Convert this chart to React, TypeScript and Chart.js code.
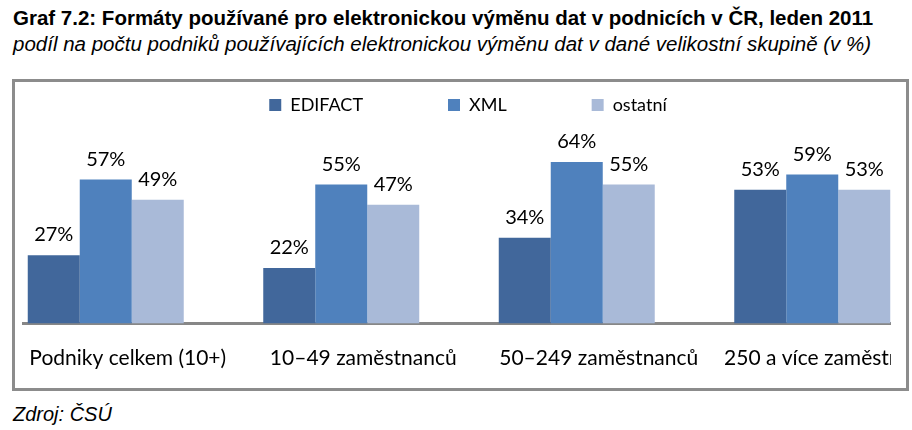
import React, { useEffect, useRef } from "react";
import { Chart, registerables } from "chart.js";

Chart.register(...registerables);

const categories = [
  "Podniky celkem (10+)",
  "10–49 zaměstnanců",
  "50–249 zaměstnanců",
  "250 a více zaměstnanců",
];
const seriesNames = ["EDIFACT", "XML", "ostatní"];
const edifact = [27, 22, 34, 53];
const xml = [57, 55, 64, 59];
const ostatni = [49, 47, 55, 53];
const seriesColors = ["#41679B", "#4F81BD", "#A9BAD8"];

const titleText =
  "Graf 7.2: Formáty používané pro elektronickou výměnu dat v podnicích v ČR, leden 2011";
const subtitleText =
  "podíl na počtu podniků používajících elektronickou výměnu dat v dané velikostní skupině (v %)";
const sourceText = "Zdroj: ČSÚ";

const LABEL_FONT = "Lato, 'Noto Sans', sans-serif";

const valueLabels = {
  id: "valueLabels",
  afterDatasetsDraw(chart: any) {
    const ctx = chart.ctx;
    ctx.save();
    ctx.font = `20px ${LABEL_FONT}`;
    ctx.fillStyle = "#000000";
    ctx.textAlign = "center";
    ctx.textBaseline = "alphabetic";
    chart.data.datasets.forEach((ds: any, di: number) => {
      const meta = chart.getDatasetMeta(di);
      meta.data.forEach((el: any, i: number) => {
        ctx.fillText(`${ds.data[i]}%`, el.x, el.y - 14);
      });
    });
    ctx.restore();
  },
};

export default function App() {
  const ref = useRef<HTMLCanvasElement | null>(null);

  useEffect(() => {
    if (!ref.current) return;
    const data = [edifact, xml, ostatni];
    const chart = new Chart(ref.current, {
      type: "bar",
      data: {
        labels: categories,
        datasets: seriesNames.map((name, i) => ({
          label: name,
          data: data[i],
          backgroundColor: seriesColors[i],
          borderWidth: 0,
          categoryPercentage: 0.6624,
          barPercentage: 1,
        })),
      },
      options: {
        responsive: false,
        animation: false,
        devicePixelRatio: 1,
        layout: { padding: { left: 4, right: 0, top: 0, bottom: 0.3 } },
        plugins: {
          legend: {
            display: true,
            position: "top",
            align: "center",
            labels: {
              boxWidth: 12,
              boxHeight: 12,
              padding: 85,
              color: "#000000",
              font: { family: LABEL_FONT, size: 18 },
            },
          },
          tooltip: { enabled: false },
        },
        scales: {
          x: {
            type: "category",
            offset: true,
            grid: { display: false, drawTicks: false },
            border: { display: true, color: "#878787", width: 3 },
            ticks: {
              color: "#000000",
              font: { family: LABEL_FONT, size: 21 },
              padding: 22,
              labelOffset: 22,
              maxRotation: 0,
              autoSkip: false,
            },
          },
          y: {
            type: "linear",
            position: "right",
            min: 0,
            max: 79,
            grid: { display: false, drawTicks: false },
            border: { display: false },
            ticks: { display: false },
            afterFit: (s: any) => {
              s.width = 18;
            },
          },
        },
      },
      plugins: [valueLabels],
    });
    return () => chart.destroy();
  }, []);

  return (
    <div
      style={{
        position: "absolute",
        left: 0,
        top: 0,
        width: 912,
        height: 430,
        background: "#ffffff",
        overflow: "hidden",
        fontFamily: "'Liberation Sans', Arial, sans-serif",
        color: "#000000",
      }}
    >
      <div
        style={{
          position: "absolute",
          left: 13,
          top: 5.5,
          fontWeight: "bold",
          fontSize: 20.5,
          lineHeight: "24px",
          whiteSpace: "nowrap",
        }}
      >
        {titleText}
      </div>
      <div
        style={{
          position: "absolute",
          left: 13,
          top: 31.5,
          fontStyle: "italic",
          fontSize: 20.5,
          lineHeight: "24px",
          whiteSpace: "nowrap",
        }}
      >
        {subtitleText}
      </div>
      <div
        style={{
          position: "absolute",
          left: 12,
          top: 79,
          width: 897,
          height: 312,
          boxSizing: "border-box",
          border: "3px solid #8C8C8C",
          background: "#ffffff",
        }}
      />
      <div
        style={{
          position: "absolute",
          left: 22,
          top: 82,
          width: 869,
          height: 306,
          overflow: "hidden",
        }}
      >
        <canvas
          ref={ref}
          width={964}
          height={382}
          style={{
            position: "absolute",
            left: -38,
            top: -71,
            width: 964,
            height: 382,
          }}
        />
      </div>
      <div
        style={{
          position: "absolute",
          left: 13,
          top: 402,
          fontStyle: "italic",
          fontSize: 20,
          lineHeight: "24px",
          whiteSpace: "nowrap",
        }}
      >
        {sourceText}
      </div>
    </div>
  );
}
